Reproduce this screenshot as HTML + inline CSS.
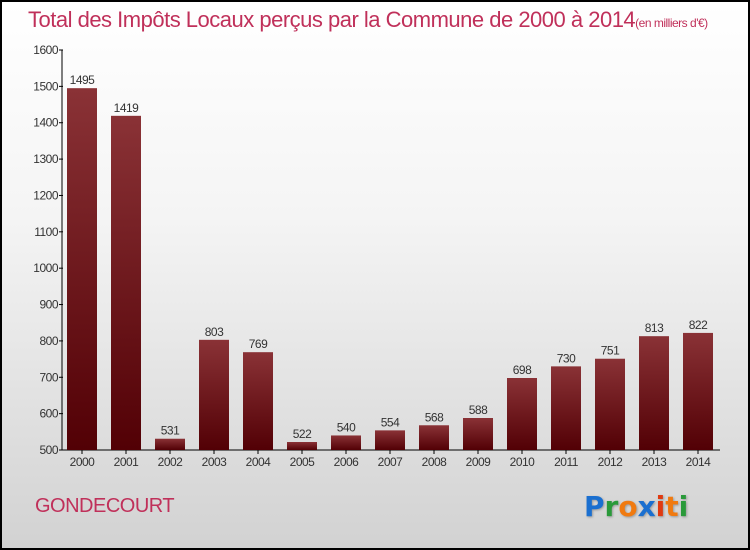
<!DOCTYPE html>
<html><head><meta charset="utf-8"><style>
body{margin:0;}
#wrap{position:relative;width:750px;height:550px;box-sizing:border-box;border:2px solid #000;background:linear-gradient(#ffffff,#f4f4f4 40%,#d2d2d2);font-family:"Liberation Sans",sans-serif;overflow:hidden}
#title{position:absolute;left:26px;top:5px;font-size:22px;color:#c0305a;white-space:nowrap;letter-spacing:-0.5px}
#title small{font-size:12px}
#commune{position:absolute;left:33px;top:493px;font-size:20px;color:#c0305a;letter-spacing:-0.5px}
#logo{position:absolute;left:582px;top:488px;font-size:28px;font-weight:bold;font-family:"DejaVu Sans",sans-serif;text-shadow:1px 1px 2px #999}
</style></head><body>
<div id="wrap">
<div id="title">Total des Impôts Locaux perçus par la Commune de 2000 à 2014<small>(en milliers d'€)</small></div>
<svg id="chart" width="746" height="546" style="position:absolute;left:0;top:0"></svg>
<div id="commune">GONDECOURT</div>
<div id="logo"><span style="color:#1a6fd0">P</span><span style="color:#2a9a3a">r</span><span style="color:#f07a10">o</span><span style="color:#1a6fd0">x</span><span style="color:#e03a10">i</span><span style="color:#f07a10">t</span><span style="color:#2a9a3a">i</span></div>
</div>
<script>
const categories=["2000","2001","2002","2003","2004","2005","2006","2007","2008","2009","2010","2011","2012","2013","2014"];
const values=[1495,1419,531,803,769,522,540,554,568,588,698,730,751,813,822];
const yTicks=[500,600,700,800,900,1000,1100,1200,1300,1400,1500,1600];
const ns="http://www.w3.org/2000/svg";
const svg=document.getElementById('chart');
const ox=-2,oy=-2;
const y=v=>450+oy-(v-500)*400/1100;
const x=i=>82+ox+i*44;
function mk(t,a){const e=document.createElementNS(ns,t);for(const k in a)e.setAttribute(k,a[k]);svg.appendChild(e);return e;}
const defs=mk('defs',{});
const g=document.createElementNS(ns,'linearGradient');g.setAttribute('id','bg');g.setAttribute('x1','0');g.setAttribute('y1','0');g.setAttribute('x2','0');g.setAttribute('y2','1');
g.innerHTML='<stop offset="0" stop-color="#8a3236"/><stop offset="1" stop-color="#520005"/>';defs.appendChild(g);
const ax=mk('line',{x1:62+ox,y1:y(1600),x2:62+ox,y2:y(500),stroke:'#000','stroke-width':1});

const bx=mk('line',{x1:62+ox,y1:y(500),x2:720+ox,y2:y(500),stroke:'#000','stroke-width':1});

yTicks.forEach(t=>{
 const l=mk('line',{x1:59+ox,x2:63+ox,y1:y(t),y2:y(t),stroke:'#000'});
 
 const tx=mk('text',{x:58+ox,y:y(t)+4,'text-anchor':'end','font-size':12,fill:'#333','letter-spacing':'-0.5'});
 tx.textContent=t;
 
});
categories.forEach((c,i)=>{
 const r=mk('rect',{x:x(i)-15,y:y(values[i]),width:30,height:y(500)-y(values[i]),fill:'url(#bg)'});
 
 const v=mk('text',{x:x(i),y:y(values[i])-4,'text-anchor':'middle','font-size':12,fill:'#333','letter-spacing':'-0.5'});
 v.textContent=values[i];
 
 const tk=mk('line',{x1:x(i),x2:x(i),y1:y(500),y2:y(500)+4,stroke:'#000'});
 
 const cl=mk('text',{x:x(i),y:y(500)+16,'text-anchor':'middle','font-size':12,fill:'#333','letter-spacing':'-0.5'});
 cl.textContent=c;
 
});
</script>
</body></html>
